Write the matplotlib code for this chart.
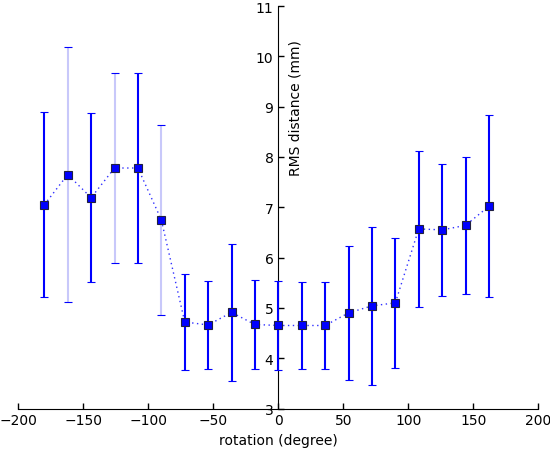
import matplotlib
matplotlib.use("Agg")
import matplotlib.pyplot as plt

rotation = [-180, -162, -144, -126, -108, -90, -72, -54, -36, -18,
            0, 18, 36, 54, 72, 90, 108, 126, 144, 162]
rms = [7.05, 7.65, 7.19, 7.78, 7.78, 6.75, 4.72, 4.66, 4.91, 4.67,
       4.65, 4.65, 4.65, 4.90, 5.04, 5.10, 6.57, 6.55, 6.64, 7.02]
err = [1.84, 2.54, 1.68, 1.89, 1.89, 1.885, 0.945, 0.88, 1.355, 0.89,
       0.875, 0.87, 0.87, 1.325, 1.57, 1.29, 1.555, 1.305, 1.355, 1.81]
light = [False, True, False, True, False, True] + [False] * 14

x_ticks = [-200, -150, -100, -50, 0, 50, 100, 150, 200]
y_ticks = [3, 4, 5, 6, 7, 8, 9, 10, 11]

fig = plt.figure(figsize=(5.5, 4.52), dpi=100)
ax = fig.add_axes([0.0333, 0.094, 0.9455, 0.8905])

eb = ax.errorbar(rotation, rms, yerr=err, fmt='s', color='#0000ff',
                 ecolor='#0000ff', elinewidth=1.5, capsize=3, capthick=1,
                 markersize=6, markeredgecolor='#202040', markeredgewidth=0.8,
                 zorder=3)
eb[2][0].set_color(['#c8c8fa' if l else '#0000ff' for l in light])
ax.plot(rotation, rms, linestyle=(0, (1, 2.5)), color='#3030ff',
        linewidth=1.0, zorder=2)

ax.set_xlim(-200, 200)
ax.set_ylim(3, 11)
ax.set_xticks(x_ticks)
ax.set_yticks(y_ticks)

ax.spines['left'].set_position(('data', 0))
ax.spines['right'].set_visible(False)
ax.spines['top'].set_visible(False)
ax.xaxis.set_ticks_position('bottom')
ax.yaxis.set_ticks_position('left')
ax.tick_params(direction='in', length=4, width=1, labelsize=10)

ax.set_xlabel('rotation (degree)', fontsize=10, labelpad=4)
ax.set_ylabel('RMS distance (mm)', fontsize=10)
ax.yaxis.set_label_coords(0.546, 0.749)

fig.savefig('out.png', dpi=100)
